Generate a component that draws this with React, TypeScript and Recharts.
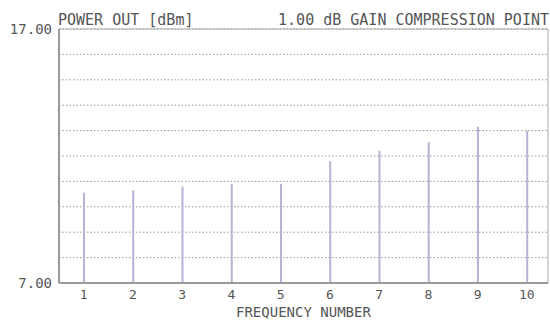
import {
  ComposedChart,
  Bar,
  XAxis,
  YAxis,
  CartesianGrid,
  ReferenceArea,
} from "recharts";

// frequency numbers and measured power out at 1 dB compression
const freqNumbers = [1, 2, 3, 4, 5, 6, 7, 8, 9, 10];
const powerOut = [10.55, 10.65, 10.8, 10.9, 10.9, 11.8, 12.2, 12.55, 13.15, 13.0];
const yTicks = [7, 8, 9, 10, 11, 12, 13, 14, 15, 16, 17];

const data = freqNumbers.map((f, i) => ({ f, p: powerOut[i] }));

const font = "'DejaVu Sans Mono', monospace";

function App() {
  return (
    <div style={{ position: "fixed", left: 0, top: 0, width: 550, height: 320, background: "#fff" }}>
      <ComposedChart
        width={550}
        height={320}
        data={data}
        margin={{ top: 29, right: 2, left: 0, bottom: 7 }}
      >
        <CartesianGrid
          vertical={false}
          stroke="#999"
          strokeDasharray="1.5 2"
        />
        <ReferenceArea
          x1={0.5}
          x2={10.43}
          y1={7}
          y2={17}
          fill="none"
          stroke="#aaa"
          strokeWidth={1}
        />
        <XAxis
          dataKey="f"
          type="number"
          domain={[0.5, 10.43]}
          ticks={freqNumbers}
          allowDataOverflow
          height={30}
          tickLine={false}
          tickSize={0}
          tickMargin={7}
          stroke="#999"
          strokeWidth={2}
          tick={{ fill: "#555", fontSize: 13, fontFamily: font }}
        />
        <YAxis
          domain={[7, 17]}
          ticks={yTicks}
          allowDataOverflow
          width={59}
          tickLine={false}
          tickSize={0}
          tickMargin={7}
          stroke="#999"
          strokeWidth={2}
          interval={0}
          tickFormatter={(v: number) => (v === 7 || v === 17 ? v.toFixed(2) : "")}
          tick={{ fill: "#555", fontSize: 14, fontFamily: font }}
        />
        <Bar dataKey="p" fill="#b4b4d4" barSize={2} isAnimationActive={false} />
      </ComposedChart>
      <svg
        width={550}
        height={320}
        style={{ position: "absolute", left: 0, top: 0, pointerEvents: "none" }}
      >
        <text x={58} y={25} fontSize={15} fontFamily={font} fill="#555">
          POWER OUT [dBm]
        </text>
        <text x={549} y={25} textAnchor="end" fontSize={15} fontFamily={font} fill="#555">
          1.00 dB GAIN COMPRESSION POINT
        </text>
        <text x={236} y={317} fontSize={14} fontFamily={font} fill="#555">
          FREQUENCY NUMBER
        </text>
      </svg>
    </div>
  );
}

export default App;
